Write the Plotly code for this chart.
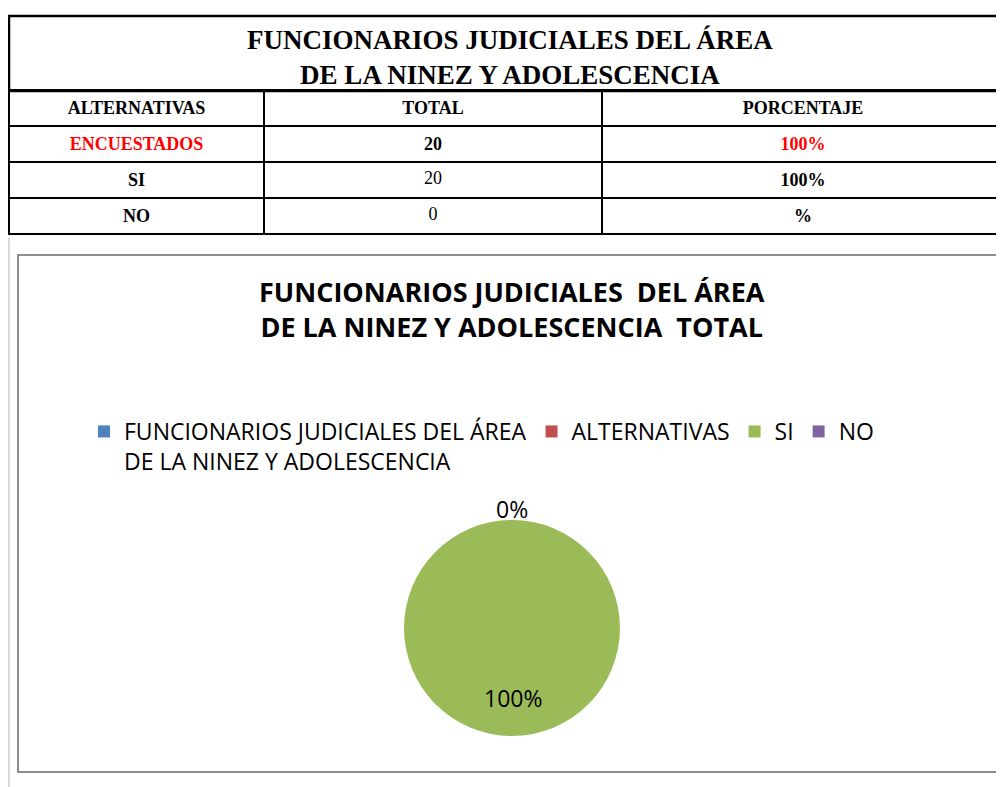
import plotly.graph_objects as go

# datos de la tabla
titulo_tabla = "FUNCIONARIOS JUDICIALES DEL ÁREA<br>DE LA NINEZ Y ADOLESCENCIA"
encabezados = ["ALTERNATIVAS", "TOTAL", "PORCENTAJE"]
alternativas = ["ENCUESTADOS", "SI", "NO"]
totales = [20, 20, 0]
porcentajes = ["100%", "100%", "%"]

# datos del pastel
titulo_grafico = "FUNCIONARIOS JUDICIALES  DEL ÁREA<br>DE LA NINEZ Y ADOLESCENCIA  TOTAL"
pie_labels = ["FUNCIONARIOS JUDICIALES DEL ÁREA<br>DE LA NINEZ Y ADOLESCENCIA",
              "ALTERNATIVAS", "SI", "NO"]
pie_values = [0, 0, 20, 0]
pie_colors = ["#4F81BD", "#C0504D", "#9BBB59", "#8064A2"]

# el body de la pagina tiene 8px de margen
OFF = 8
W, H = 996, 779


def px_x(x):
    return (x - OFF) / W


def px_y(y):
    return 1 - (y - OFF) / H


serif = "Liberation Serif"
sans = "Open Sans"
rojo = "#FF0000"

fig = go.Figure()

col1 = ["<b>" + a + "</b>" for a in alternativas]
col2 = ["<b>%d</b>" % totales[0]] + [str(t) for t in totales[1:]]
col3 = ["<b>" + p + "</b>" for p in porcentajes]

fig.add_trace(go.Table(
    domain=dict(x=[px_x(9), 1], y=[px_y(252), px_y(90)]),
    columnwidth=[255, 338, 402],
    header=dict(
        values=["<b>" + e + "</b>" for e in encabezados],
        height=34,
        align="center",
        line=dict(color="black", width=2.5),
        fill=dict(color="white"),
        font=dict(family=serif, size=18, color="black"),
    ),
    cells=dict(
        values=[col1, col2, col3],
        height=35,
        align="center",
        line=dict(color="black", width=2.5),
        fill=dict(color="white"),
        font=dict(family=serif, size=18,
                  color=[[rojo, "black", "black"],
                         ["black", "black", "black"],
                         [rojo, "black", "black"]]),
    ),
))

# grafico de pastel
fig.add_trace(go.Pie(
    labels=pie_labels,
    values=pie_values,
    marker=dict(colors=pie_colors),
    sort=False,
    direction="clockwise",
    rotation=0,
    textinfo="none",
    hoverinfo="label+percent",
    domain=dict(x=[0.012, 1], y=[px_y(736), px_y(520)]),
))

total = sum(pie_values)
pct = [round(v / total * 100) for v in pie_values]


def texto(x, y, s, family, size):
    fig.add_annotation(x=px_x(x), y=px_y(y), xref="paper", yref="paper",
                       xanchor="center", yanchor="middle",
                       text=s, showarrow=False, align="center",
                       font=dict(family=family, size=size, color="black"))


# etiquetas de porcentaje
texto(512, 509, "%d%%" % pct[3], sans, 23)
texto(513, 698, "%d%%" % pct[2], sans, 23)

# titulo de la tabla (celda combinada)
texto(510, 57, "<b>" + titulo_tabla + "</b>", serif, 27)

# titulo del grafico
texto(512, 309, "<b>" + titulo_grafico + "</b>", sans, 27)

fig.update_layout(
    width=W, height=H,
    margin=dict(l=0, r=0, t=0, b=0),
    paper_bgcolor="white",
    plot_bgcolor="white",
    showlegend=True,
    legend=dict(
        orientation="h",
        x=px_x(84), y=px_y(410),
        xanchor="left", yanchor="top",
        valign="top",
        font=dict(family=sans, size=23, color="black"),
        traceorder="normal",
    ),
    shapes=[
        # borde de la fila de titulo
        dict(type="rect", xref="paper", yref="paper",
             x0=px_x(9), x1=px_x(1012), y0=px_y(91), y1=px_y(16),
             line=dict(color="black", width=2.5)),
        # borde del area del grafico
        dict(type="rect", xref="paper", yref="paper",
             x0=px_x(18), x1=px_x(1012), y0=px_y(772), y1=px_y(255),
             line=dict(color="#8C8C8C", width=2)),
        # borde de la pagina
        dict(type="line", xref="paper", yref="paper",
             x0=px_x(9), x1=px_x(9), y0=0, y1=px_y(238),
             line=dict(color="#D9D9D9", width=2)),
    ],
)

fig.write_html("out.html")
